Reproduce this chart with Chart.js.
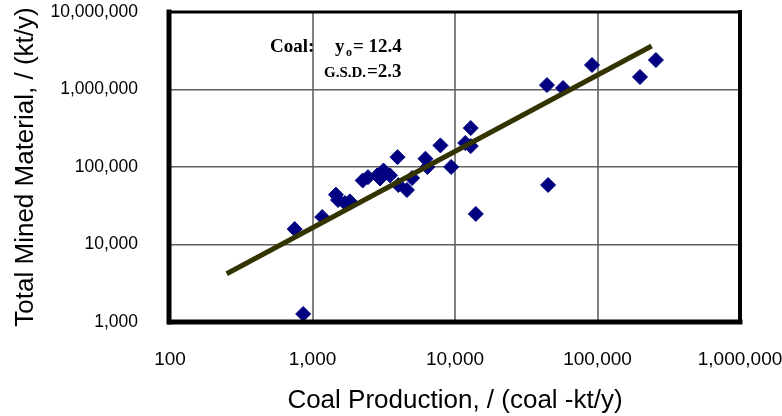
<!DOCTYPE html>
<html lang="en">
<head>
    <script src="https://cdn.jsdelivr.net/npm/chart.js"></script>
    <meta charset="UTF-8">
    <title>Coal production vs total mined material</title>
    <style>
        html, body { margin: 0; padding: 0; background: #fff; }
        .chart-container { position: relative; width: 782px; height: 416px; }
    </style>
</head>
<body>
<div class="chart-container">
    <canvas id="myChart" width="782" height="416"></canvas>
</div>
<script>
// coal production (kt/y) and total mined material (kt/y)
var coalProduction = [750, 860, 1170, 1460, 1510, 1690, 1830, 2250, 2450, 2850,
    2980, 3150, 3500, 3950, 4000, 4600, 5000, 6200, 6400, 7900,
    9400, 11800, 12900, 12900, 14000, 44200, 45000, 57300, 91500, 198700, 257000];
var totalMined = [15800, 1270, 22600, 44000, 37500, 34300, 36000, 67000, 74000, 78000,
    71000, 90000, 78000, 134000, 58600, 50500, 72000, 128000, 100000, 190000,
    100000, 204000, 318000, 186000, 24800, 1140000, 58600, 1045000, 2070000, 1450000, 2400000];
// fitted line end points
var fitX = [250, 240000];
var fitY = [4200, 3650000];
var xTickValues = [100, 1000, 10000, 100000, 1000000];
var yTickValues = [1000, 10000, 100000, 1000000, 10000000];

var points = [];
for (var i = 0; i < coalProduction.length; i++) {
    points.push({ x: coalProduction[i], y: totalMined[i] });
}
var fitLine = [];
for (var j = 0; j < fitX.length; j++) {
    fitLine.push({ x: fitX[j], y: fitY[j] });
}

function fmt(v) {
    return Number(v).toLocaleString('en-US');
}

// no extra room for overhanging tick labels, the layout is fixed
function noPad(scale) {
    scale.paddingTop = 0;
    scale.paddingBottom = 0;
    scale.paddingLeft = 0;
    scale.paddingRight = 0;
}

// thick frame round the plot area + the equation box text
var framePlugin = {
    id: 'frame',
    afterDraw: function (chart) {
        var c = chart.ctx, a = chart.chartArea;
        c.save();
        c.strokeStyle = '#000';
        c.lineCap = 'square';
        c.lineWidth = 3;
        c.beginPath(); c.moveTo(a.left, a.top); c.lineTo(a.right, a.top); c.stroke();
        c.lineWidth = 4;
        c.beginPath(); c.moveTo(a.right, a.top); c.lineTo(a.right, a.bottom); c.stroke();
        c.lineWidth = 5;
        c.beginPath(); c.moveTo(a.left, a.bottom); c.lineTo(a.right, a.bottom); c.stroke();
        c.beginPath(); c.moveTo(a.left - 1, a.top); c.lineTo(a.left - 1, a.bottom); c.stroke();

        c.fillStyle = '#000';
        c.textBaseline = 'alphabetic';
        c.textAlign = 'left';
        var x0 = a.left + 100, y0 = a.top + 40;
        var big = 'bold 19px "Liberation Serif", "Times New Roman", serif';
        c.font = big;
        c.fillText('Coal:', x0, y0);
        c.fillText('y', x0 + 65, y0);
        c.font = 'bold 12px "Liberation Serif", "Times New Roman", serif';
        c.fillText('o', x0 + 76, y0 + 4);
        c.font = big;
        c.fillText('= 12.4', x0 + 83, y0);
        c.font = 'bold 15px "Liberation Serif", "Times New Roman", serif';
        c.fillText('G.S.D.', x0 + 54, y0 + 25);
        c.font = big;
        c.fillText('=2.3', x0 + 97, y0 + 25);
        c.restore();
    }
};

var ctx = document.getElementById('myChart').getContext('2d');
var myChart = new Chart(ctx, {
    type: 'scatter',
    data: {
        datasets: [
            {
                type: 'line',
                label: 'fit',
                data: fitLine,
                borderColor: '#333300',
                borderWidth: 5,
                pointRadius: 0,
                fill: false,
                order: 0
            },
            {
                label: 'Coal',
                data: points,
                backgroundColor: '#000080',
                borderColor: '#000080',
                borderWidth: 1,
                pointStyle: 'rectRot',
                pointRadius: 7.5,
                order: 1
            }
        ]
    },
    options: {
        responsive: false,
        animation: false,
        maintainAspectRatio: false,
        devicePixelRatio: 1,
        layout: { padding: { top: 12, right: 42, bottom: 0, left: 0 } },
        plugins: {
            legend: { display: false },
            tooltip: { enabled: false }
        },
        scales: {
            x: {
                type: 'logarithmic',
                min: 100,
                max: 1000000,
                afterBuildTicks: function (scale) {
                    scale.ticks = xTickValues.map(function (v) { return { value: v }; });
                },
                afterFit: function (scale) { scale.height = 94; noPad(scale); },
                grid: { color: '#808080', lineWidth: 2, drawTicks: false },
                border: { display: false },
                ticks: {
                    color: '#000',
                    padding: 26,
                    maxRotation: 0,
                    autoSkip: false,
                    font: { family: '"Liberation Sans", Arial, sans-serif', size: 19 },
                    callback: function (v) { return fmt(v); }
                },
                title: {
                    display: true,
                    text: 'Coal Production, / (coal -kt/y)',
                    color: '#000',
                    padding: { top: 0, bottom: 0 },
                    font: { family: '"Liberation Sans", Arial, sans-serif', size: 26 }
                }
            },
            y: {
                type: 'logarithmic',
                min: 1000,
                max: 10000000,
                afterBuildTicks: function (scale) {
                    scale.ticks = yTickValues.map(function (v) { return { value: v }; });
                },
                afterFit: function (scale) { scale.width = 170; noPad(scale); },
                grid: { color: '#606060', lineWidth: 1.5, drawTicks: false },
                border: { display: false },
                ticks: {
                    color: '#000',
                    padding: 32,
                    autoSkip: false,
                    font: { family: '"Liberation Sans", Arial, sans-serif', size: 17.5 },
                    callback: function (v) { return fmt(v); }
                },
                title: {
                    display: true,
                    text: 'Total Mined Material, / (kt/y)',
                    color: '#000',
                    padding: { top: 10, bottom: 0 },
                    font: { family: '"Liberation Sans", Arial, sans-serif', size: 26 }
                }
            }
        }
    },
    plugins: [framePlugin]
});
</script>
</body>
</html>
